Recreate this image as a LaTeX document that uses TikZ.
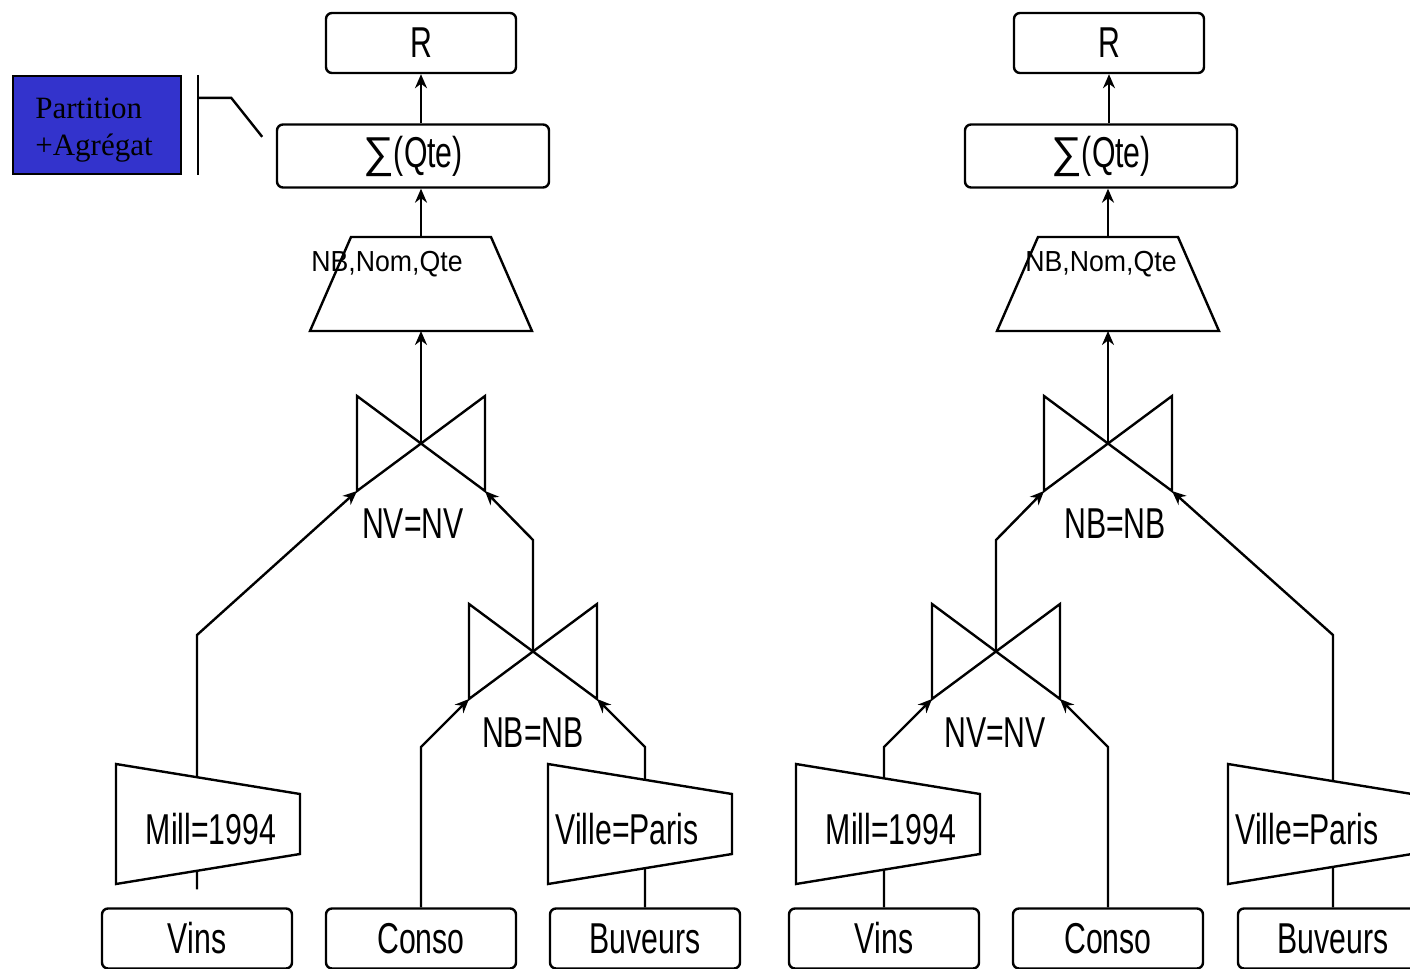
\documentclass[tikz,border=0pt]{standalone}
\usepackage{fontspec}
\setmainfont{Liberation Sans}
\newfontfamily\opfont[FakeStretch=0.7]{Liberation Sans}
\newfontfamily\projfont[FakeStretch=0.92]{Liberation Sans}
\newfontfamily\notefont{Liberation Serif}
\usetikzlibrary{arrows.meta}
\definecolor{partblue}{RGB}{51,51,204}

\begin{document}
\begin{tikzpicture}[x=0.5pt, y=-0.5pt, line width=1.2pt,
    box/.style={draw, rounded corners=3pt, minimum width=95pt, minimum height=30pt, inner sep=0pt, font=\opfont\fontsize{21.6}{24}\selectfont},
    oplabel/.style={inner sep=0pt, font=\opfont\fontsize{21.6}{24}\selectfont},
    projlabel/.style={inner sep=0pt, font=\projfont\fontsize{14.5}{16}\selectfont},
    arr/.style={-{Stealth[length=7pt, width=6pt]}},
    joinop/.pic={
        \draw (-64,-47) -- (64,48) -- (64,-47) -- (-64,48) -- cycle;
        \coordinate (-c) at (0,0);
        \coordinate (-l) at (-64,48);
        \coordinate (-r) at (64,48);
    },
    projop/.pic={
        \draw (-70,-47) -- (70,-47) -- (111,47) -- (-111,47) -- cycle;
        \coordinate (-top) at (0,-47);
        \coordinate (-bot) at (0,47);
    },
    selop/.pic={
        \draw[fill=white] (-92,-60) -- (92,-30) -- (92,30) -- (-92,60) -- cycle;
    }]
    \clip (0,0) rectangle (1410,969);

    % Resultat et agregat.
    \node[box] (r1) at (421,43) {R};
    \node[box] (r2) at (1109,43) {R};
    \node[box, minimum width=136pt, minimum height=31.5pt] (sig1) at (413,156) {{\normalfont∑}(Qte)};
    \node[box, minimum width=136pt, minimum height=31.5pt] (sig2) at (1101,156) {{\normalfont∑}(Qte)};

    % Projections.
    \pic (p1) at (421,284) {projop};
    \pic (p2) at (1108,284) {projop};
    \node[projlabel] (pl1) at (387,264) {NB,Nom,Qte};
    \node[projlabel] (pl2) at (1101,264) {NB,Nom,Qte};

    % Jointures.
    \pic (j1) at (421,443) {joinop};
    \pic (j2) at (533,651) {joinop};
    \pic (j3) at (1108,443) {joinop};
    \pic (j4) at (996,651) {joinop};
    \node[oplabel] (jl1) at (413,524) {NV=NV};
    \node[oplabel] (jl2) at (533,733) {NB=NB};
    \node[oplabel] (jl3) at (1115,524) {NB=NB};
    \node[oplabel] (jl4) at (995,733) {NV=NV};

    % Relations.
    \foreach \n/\x/\t in {vins1/197/Vins, conso1/421/Conso, buv1/645/Buveurs,
                          vins2/884/Vins, conso2/1108/Conso, buv2/1333/Buveurs}
    {
        \node[box] (\n) at (\x,938.5) {\t};
    }

    % Coudes.
    \coordinate (k1) at (197,635);
    \coordinate (k2) at (421,747);
    \coordinate (k3) at (645,747);
    \coordinate (k4) at (533,540);
    \coordinate (k5) at (884,747);
    \coordinate (k6) at (1108,747);
    \coordinate (k7) at (996,540);
    \coordinate (k8) at (1333,635);

    % Arcs, arbre de gauche.
    \draw[arr] ([yshift=9pt]vins1.north) -- (k1) -- (j1-l);
    \draw[arr] (conso1.north) -- (k2) -- (j2-l);
    \draw[arr] (buv1.north) -- (k3) -- (j2-r);
    \draw[arr] (j2-c) -- (k4) -- (j1-r);
    \draw[arr] (j1-c) -- (p1-bot);
    \draw[arr] (p1-top) -- (p1-top |- sig1.south);
    \draw[arr] (r1.south |- sig1.north) -- (r1.south);

    % Arcs, arbre de droite.
    \draw[arr] (vins2.north) -- (k5) -- (j4-l);
    \draw[arr] (conso2.north) -- (k6) -- (j4-r);
    \draw[arr] (j4-c) -- (k7) -- (j3-l);
    \draw[arr] (buv2.north) -- (k8) -- (j3-r);
    \draw[arr] (j3-c) -- (p2-bot);
    \draw[arr] (p2-top) -- (p2-top |- sig2.south);
    \draw[arr] (r2.south |- sig2.north) -- (r2.south);

    % Selections.
    \pic at (208,824) {selop};
    \pic at (640,824) {selop};
    \pic at (888,824) {selop};
    \pic at (1320,824) {selop};
    \node[oplabel] (s1) at (211,829) {Mill=1994};
    \node[oplabel] (s2) at (627,829) {Ville=Paris};
    \node[oplabel] (s3) at (891,829) {Mill=1994};
    \node[oplabel] (s4) at (1307,829) {Ville=Paris};

    % Legende.
    \node[draw, fill=partblue, minimum width=84pt, minimum height=49pt] (part) at (97,125) {};
    \node[inner sep=0pt, align=left, font=\notefont\fontsize{15.5}{18.5}\selectfont] (parttext) at (94,130) {Partition\\+Agrégat};
    \draw ([xshift=8pt]part.north east) -- ([xshift=8pt]part.south east);
    \draw ([xshift=8pt, yshift=-11.5pt]part.north east) -- ++(33,0) -- ++(31,39);
\end{tikzpicture}
\end{document}
